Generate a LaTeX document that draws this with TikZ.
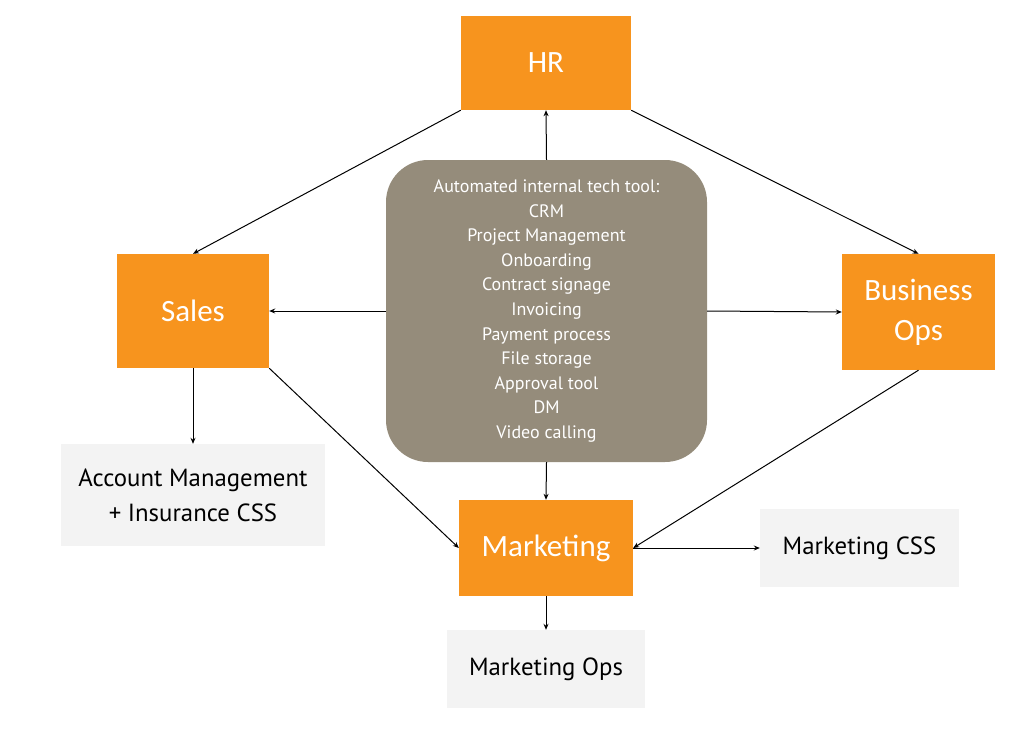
\documentclass[tikz,border=0pt]{standalone}
\usepackage{fontspec}
\setmainfont{PT Sans}
\newfontfamily\calfont{Carlito}
\usetikzlibrary{arrows.meta}
\definecolor{orangebox}{HTML}{F7941E}
\definecolor{graybox}{HTML}{958C7B}
\definecolor{lightbox}{HTML}{F3F3F3}
\tikzset{
  obox/.style={fill=orangebox, draw=none, text=white, font=\calfont\fontsize{31}{40}\selectfont, align=center, inner sep=0pt},
  lbox/.style={fill=lightbox, draw=none, text=black, font=\fontsize{24.8}{35}\selectfont, align=center, inner sep=0pt},
  conn/.style={draw=black, line width=1pt, -{Stealth[length=6pt,width=5pt]}},
}
\begin{document}
\begin{tikzpicture}[x=1pt,y=-1pt]
\useasboundingbox (0,0) rectangle (1022,728);
\node[obox, minimum width=170, minimum height=94] (hr) at (546,63) {HR};
\node[obox, minimum width=152, minimum height=114] (sales) at (193,311) {Sales};
\node[obox, minimum width=153, minimum height=116] (bops) at (918.5,312) {Business\\Ops};
\node[obox, minimum width=174, minimum height=96] (mkt) at (546,548) {Marketing};
\node[fill=graybox, draw=none, rounded corners=42pt, minimum width=321, minimum height=302, text=white, align=center, inner sep=0pt, font=\fontsize{18}{24.6}\selectfont] (tool) at (546.5,311) {Automated internal tech tool:\\CRM\\Project Management\\Onboarding\\Contract signage\\Invoicing\\Payment process\\File storage\\Approval tool\\DM\\Video calling};
\node[lbox, minimum width=264, minimum height=102] (acct) at (193,495) {Account Management\\+ Insurance CSS};
\node[lbox, minimum width=199, minimum height=78] (mcss) at (859.5,548) {Marketing CSS};
\node[lbox, minimum width=198, minimum height=78] (mops) at (546,669) {Marketing Ops};
\draw[conn] (tool.north) -- (hr.south);
\draw[conn] (hr.south west) -- (sales.north);
\draw[conn] (hr.south east) -- (bops.north);
\draw[conn] (tool.west) -- (sales.east);
\draw[conn] (tool.east) -- (bops.west);
\draw[conn] (tool.south) -- (mkt.north);
\draw[conn] (sales.south) -- (acct.north);
\draw[conn] (sales.south east) -- (mkt.west);
\draw[conn] (bops.south) -- (mkt.east);
\draw[conn] (mkt.east) -- (mcss.west);
\draw[conn] (mkt.south) -- (mops.north);
\end{tikzpicture}
\end{document}
